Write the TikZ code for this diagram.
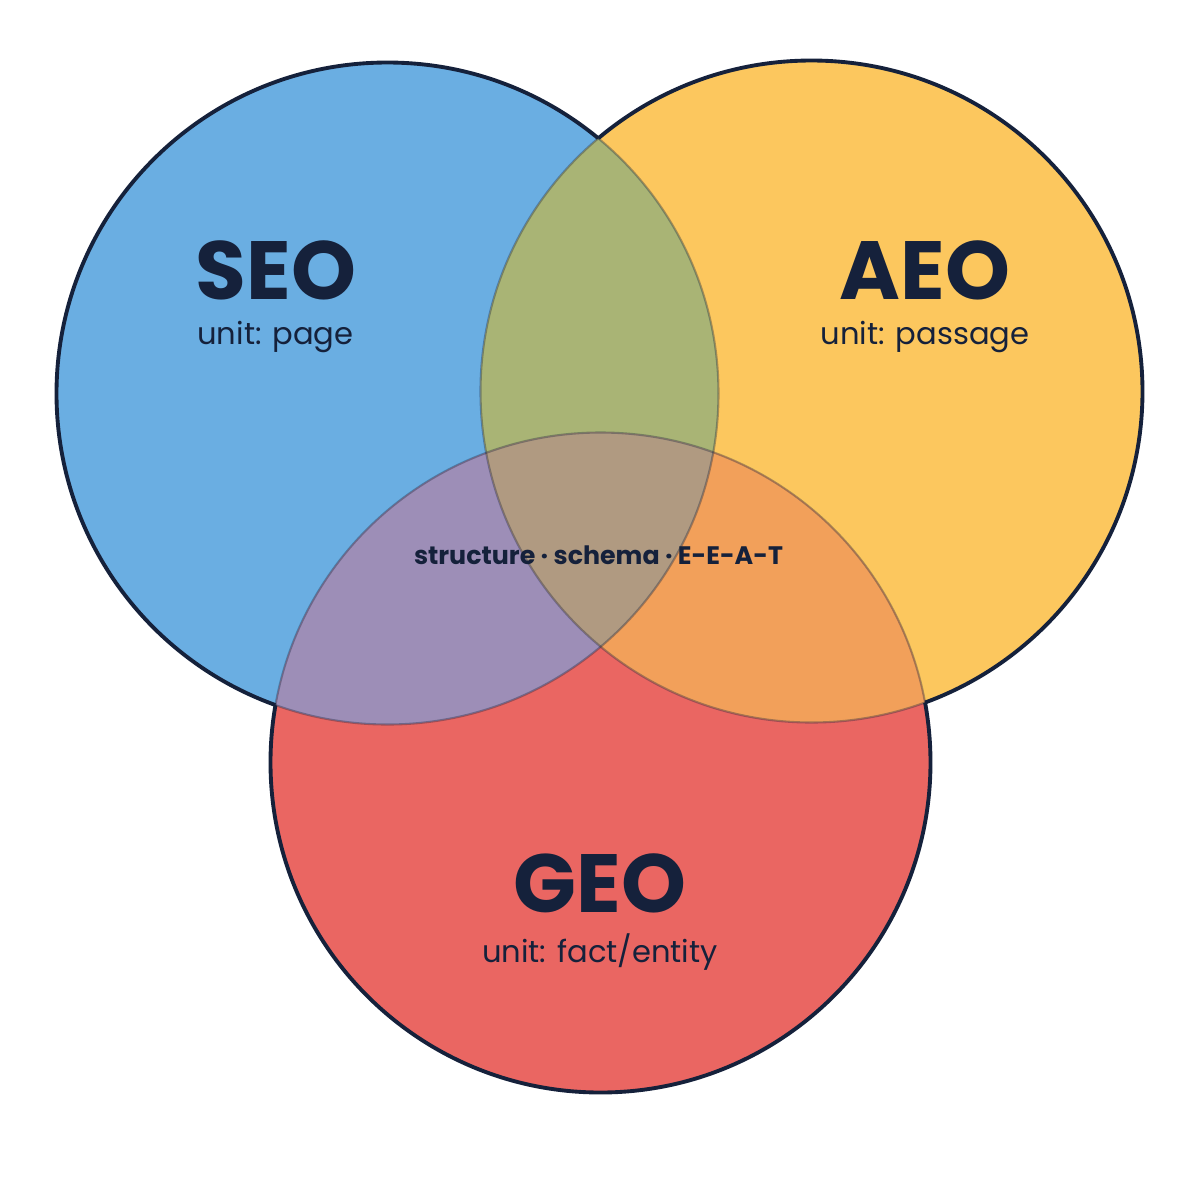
\documentclass[tikz,border=0pt]{standalone}
\usepackage{fontspec}
\setmainfont{Poppins}
\definecolor{seoc}{HTML}{6AAEE2}
\definecolor{aeoc}{HTML}{FCC75E}
\definecolor{geoc}{HTML}{EA6662}
\definecolor{sac}{HTML}{A9B475}
\definecolor{sgc}{HTML}{9D8EB7}
\definecolor{agc}{HTML}{F2A05A}
\definecolor{allc}{HTML}{B09A81}
\definecolor{ink}{HTML}{15213B}
\tikzset{
  title/.style={font=\fontsize{23.5}{26}\selectfont\bfseries, text=ink, inner sep=0pt},
  unitlbl/.style={font=\fontsize{8.7}{10}\selectfont, text=ink, inner sep=0pt},
  midlbl/.style={font=\fontsize{7.2}{9}\selectfont\bfseries, text=ink, inner sep=0pt},
  outer/.style={draw=ink, line width=1.1pt},
  inner/.style={draw=ink, draw opacity=0.35, line width=0.6pt},
}
\begin{document}
\begin{tikzpicture}
\useasboundingbox (0,0) rectangle (12,-12);
\fill[white] (0,0) rectangle (12,-12);
\coordinate (S) at (3.875,-3.935);
\coordinate (A) at (8.115,-3.915);
\coordinate (G) at (6.005,-7.625);
\def\rS{3.31}
\def\rA{3.31}
\def\rG{3.30}
% base fills
\fill[seoc] (S) circle (\rS);
\fill[aeoc] (A) circle (\rA);
\fill[geoc] (G) circle (\rG);
% pairwise overlaps
\begin{scope}
  \clip (S) circle (\rS);
  \fill[sac] (A) circle (\rA);
  \fill[sgc] (G) circle (\rG);
\end{scope}
\begin{scope}
  \clip (A) circle (\rA);
  \fill[agc] (G) circle (\rG);
\end{scope}
\begin{scope}
  \clip (S) circle (\rS);
  \clip (A) circle (\rA);
  \fill[allc] (G) circle (\rG);
\end{scope}
% inner arcs (muted)
\path[inner] (S) circle (\rS);
\path[inner] (A) circle (\rA);
\path[inner] (G) circle (\rG);
% outer boundary
\begin{scope}[even odd rule]
  \clip (13,1) -- (13,-13) -- (-1,-13) -- (-1,1) -- cycle (A) circle (\rA);
  \clip (13,1) -- (13,-13) -- (-1,-13) -- (-1,1) -- cycle (G) circle (\rG);
  \path[outer] (S) circle (\rS);
\end{scope}
\begin{scope}[even odd rule]
  \clip (13,1) -- (13,-13) -- (-1,-13) -- (-1,1) -- cycle (S) circle (\rS);
  \clip (13,1) -- (13,-13) -- (-1,-13) -- (-1,1) -- cycle (G) circle (\rG);
  \path[outer] (A) circle (\rA);
\end{scope}
\begin{scope}[even odd rule]
  \clip (13,1) -- (13,-13) -- (-1,-13) -- (-1,1) -- cycle (S) circle (\rS);
  \clip (13,1) -- (13,-13) -- (-1,-13) -- (-1,1) -- cycle (A) circle (\rA);
  \path[outer] (G) circle (\rG);
\end{scope}
% labels
\node[title] (seo) at (2.76,-2.70) {SEO};
\node[unitlbl] (seou) at (2.755,-3.37) {unit: page};
\node[title] (aeo) at (9.25,-2.70) {AEO};
\node[unitlbl] (aeou) at (9.25,-3.37) {unit: passage};
\node[title] (geo) at (6.00,-8.83) {GEO};
\node[unitlbl] (geou) at (6.00,-9.52) {unit: fact/entity};
\node[midlbl] (mid) at (5.985,-5.55) {structure · schema · E-E-A-T};
\end{tikzpicture}
\end{document}
